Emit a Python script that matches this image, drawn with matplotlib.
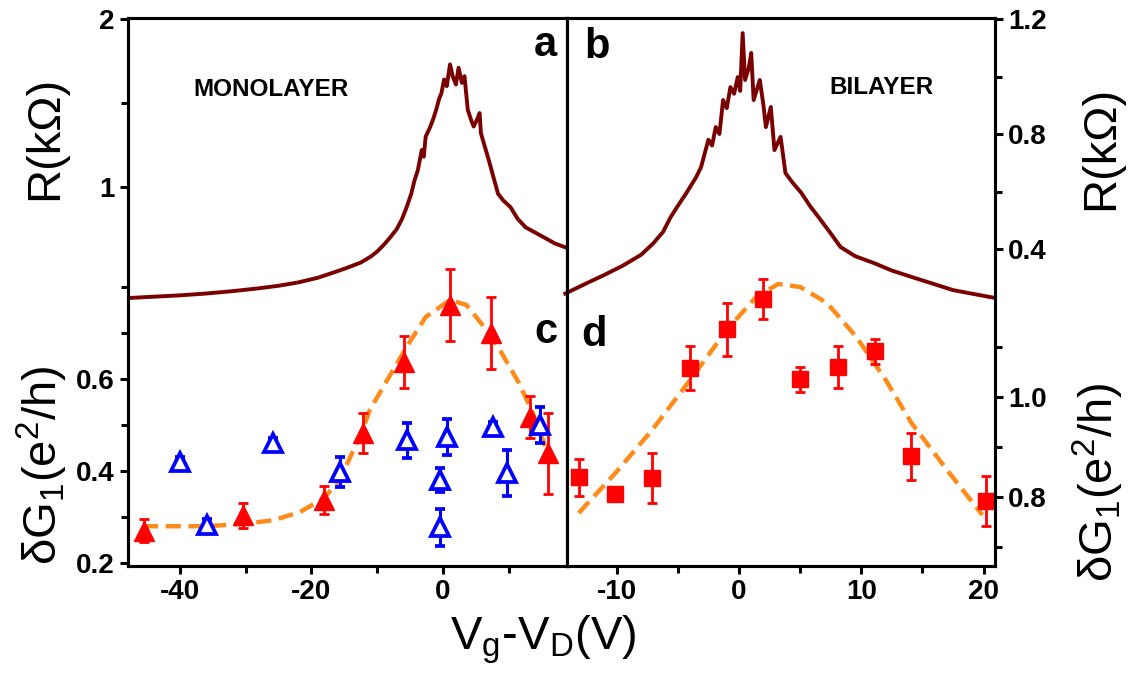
import numpy as np
import matplotlib
matplotlib.use('Agg')
import matplotlib.pyplot as plt
from matplotlib.ticker import FixedLocator

plt.rcParams['font.family'] = ['Liberation Sans', 'DejaVu Sans']
plt.rcParams['mathtext.default'] = 'regular'

# ---- datos ----
# resistencia monocapa (kOhm) vs Vg-VD
mono_R_v = [-47.9, -44, -40, -36, -32, -28, -25, -22, -19, -16.7, -14.5, -12.5, -11, -10, -9, -8, -7,
            -6.2, -5.5, -4.8, -4.3, -3.8, -3.5, -3.2, -2.9, -2.6, -2.0, -1.5, -1.0, -0.6, -0.2, 0.2, 0.6,
            1.1, 1.5, 2.0, 2.4, 2.9, 3.3, 3.8, 4.3, 4.7, 5.2, 5.6, 5.8, 6.4, 7.0, 7.7, 8.4, 9.2, 10.3,
            11.4, 12.6, 14.0, 15.4, 17.0, 18.9]
mono_R = [0.339, 0.347, 0.355, 0.366, 0.38, 0.397, 0.412, 0.432, 0.46, 0.49, 0.52, 0.55, 0.585, 0.615,
          0.655, 0.70, 0.75, 0.81, 0.88, 0.96, 1.04, 1.10, 1.16, 1.22, 1.18, 1.30, 1.35, 1.40, 1.46, 1.52,
          1.56, 1.64, 1.60, 1.73, 1.66, 1.61, 1.71, 1.62, 1.66, 1.46, 1.40, 1.36, 1.40, 1.44, 1.32, 1.24,
          1.16, 1.06, 0.96, 0.92, 0.88, 0.81, 0.76, 0.73, 0.70, 0.665, 0.637]

# resistencia bicapa
bi_R_v = [-14.2, -12.5, -11, -9.5, -8, -7, -6.2, -5.6, -5.0, -4.3, -3.5, -3.1, -2.5, -2.2, -1.9, -1.6,
          -1.3, -1.0, -0.7, -0.4, -0.1, 0.1, 0.3, 0.5, 0.8, 1.0, 1.2, 1.5, 1.7, 2.0, 2.2, 2.6, 2.9, 3.4,
          3.8, 4.4, 5.1, 5.8, 6.5, 7.4, 8.3, 9.5, 11.1, 12.5, 14.1, 15.8, 17.5, 19.0, 20.9]
bi_R = [0.245, 0.28, 0.31, 0.342, 0.38, 0.42, 0.46, 0.51, 0.55, 0.595, 0.65, 0.685, 0.78, 0.76, 0.824,
        0.80, 0.918, 0.89, 0.963, 0.94, 0.998, 0.95, 1.151, 0.988, 1.03, 1.082, 0.918, 0.96, 0.988, 0.90,
        0.824, 0.894, 0.744, 0.79, 0.664, 0.63, 0.595, 0.55, 0.511, 0.46, 0.407, 0.375, 0.35, 0.325,
        0.303, 0.28, 0.257, 0.245, 0.23]

# dG1 monocapa (triangulos llenos)
mono_v = [-45.5, -30.4, -18.1, -12.2, -5.9, 1.1, 7.3, 13.2, 16.0]
mono_G = [0.27, 0.304, 0.337, 0.483, 0.637, 0.761, 0.70, 0.517, 0.439]
mono_err = [0.025, 0.027, 0.03, 0.043, 0.057, 0.078, 0.078, 0.046, 0.088]

# dG1 monocapa (triangulos abiertos)
mono2_v = [-40.0, -35.9, -25.8, -15.7, -5.5, 0.6, -0.5, -0.5, 7.6, 9.7, 14.8]
mono2_G = [0.42, 0.283, 0.461, 0.398, 0.467, 0.474, 0.38, 0.278, 0.496, 0.396, 0.50]
mono2_err = [0.01, 0.012, 0.01, 0.033, 0.038, 0.04, 0.026, 0.04, 0.01, 0.05, 0.04]

# ajuste monocapa
fit_mono_v = [-45.6, -35.9, -30.4, -25.8, -21.7, -18.1, -15.7, -12.2, -11.1, -8.2, -5.5, -2.6, 1.1,
              3.6, 5.8, 8.7, 11.6, 13.7, 15.4, 16.2]
fit_mono_G = [0.28, 0.28, 0.285, 0.293, 0.311, 0.341, 0.38, 0.489, 0.533, 0.604, 0.67, 0.735, 0.772,
              0.761, 0.722, 0.663, 0.591, 0.526, 0.461, 0.43]

# dG1 bicapa
bi_v = [-13.1, -10.1, -7.1, -4.0, -1.0, 2.0, 5.0, 8.1, 11.1, 14.1, 20.2]
bi_G = [0.84, 0.806, 0.838, 1.058, 1.136, 1.196, 1.036, 1.06, 1.092, 0.882, 0.792]
bi_err = [0.037, 0.0, 0.05, 0.044, 0.053, 0.04, 0.025, 0.042, 0.025, 0.047, 0.05]

fit_bi_v = [-13.1, -10.1, -7.1, -4.0, -1.0, 1.4, 3.2, 5.0, 7.2, 9.6, 12.0, 14.1, 17.2, 19.9]
fit_bi_G = [0.768, 0.848, 0.934, 1.034, 1.134, 1.2, 1.226, 1.22, 1.188, 1.12, 1.034, 0.948, 0.848, 0.764]

W, H = 1140, 677
fig = plt.figure(figsize=(W / 100, H / 100), dpi=100)

def caja(x0, y0, x1, y1):
    return [x0 / W, 1 - y1 / H, (x1 - x0) / W, (y1 - y0) / H]

rojo = '#ff0000'
azul = '#0000ff'
naranja = '#ff8c1a'
vino = '#7a0000'
lw_sp = 2.2

def estilo(ax):
    for s in ax.spines.values():
        s.set_linewidth(lw_sp)
    ax.tick_params(which='major', direction='out', length=6, width=2.2, labelsize=20)
    ax.tick_params(which='minor', direction='out', length=5, width=2.2)
    for t in ax.get_xticklabels() + ax.get_yticklabels():
        t.set_fontweight('bold')

# ---- panel izquierdo ----
axGl = fig.add_axes(caja(128, 18, 567, 566))
axRl = fig.add_axes(caja(128, 18, 567, 566), sharex=axGl)
axRl.patch.set_visible(False)

axRl.plot(mono_R_v, mono_R, color=vino, lw=2.8)
axRl.set_ylim(-1.256, 2.006)
axRl.yaxis.set_major_locator(FixedLocator([1, 2]))
axRl.yaxis.set_minor_locator(FixedLocator([1.5]))
axRl.tick_params(axis='x', which='both', bottom=False, labelbottom=False)

axGl.plot(fit_mono_v, fit_mono_G, color=naranja, lw=3.2, ls=(0, (3.4, 1.7)), zorder=1)
axGl.errorbar(mono_v, mono_G, yerr=mono_err, fmt='^', ms=14, color=rojo, ecolor=rojo,
              elinewidth=2.0, capsize=3.5, capthick=2.0, zorder=3)
axGl.errorbar(mono2_v, mono2_G, yerr=mono2_err, fmt='^', ms=13.5, mfc='white', mec=azul, mew=2.7,
              ecolor=azul, elinewidth=2.2, capsize=3.5, capthick=2.2, zorder=4)
axGl.set_ylim(0.1935, 1.385)
axGl.set_xlim(-47.9, 18.9)
axGl.yaxis.set_major_locator(FixedLocator([0.2, 0.4, 0.6]))
axGl.yaxis.set_minor_locator(FixedLocator([0.3, 0.5, 0.7, 0.8]))
axGl.xaxis.set_major_locator(FixedLocator([-40, -20, 0]))
axGl.xaxis.set_minor_locator(FixedLocator([-30, -10, 10]))
axGl.set_yticklabels(['0.2', '0.4', '0.6'])
axGl.set_xticklabels(['-40', '-20', '0'])
estilo(axGl)
estilo(axRl)

# ---- panel derecho ----
axGr = fig.add_axes(caja(567, 18, 995, 566))
axRr = fig.add_axes(caja(567, 18, 995, 566), sharex=axGr)
axRr.patch.set_visible(False)

axRr.plot(bi_R_v, bi_R, color=vino, lw=2.8, clip_on=False)
axRr.set_ylim(-0.7026, 1.2035)
axRr.yaxis.tick_right()
axRr.yaxis.set_major_locator(FixedLocator([0.4, 0.8, 1.2]))
axRr.yaxis.set_minor_locator(FixedLocator([0.6, 1.0]))
axRr.set_yticklabels(['0.4', '0.8', '1.2'])
axRr.tick_params(axis='x', which='both', bottom=False, labelbottom=False)

axGr.plot(fit_bi_v, fit_bi_G, color=naranja, lw=3.2, ls=(0, (3.4, 1.7)), zorder=1)
axGr.errorbar(bi_v, bi_G, yerr=bi_err, fmt='s', ms=11.5, color=rojo, ecolor=rojo,
              elinewidth=2.0, capsize=3.5, capthick=2.0, zorder=3)
axGr.set_ylim(0.662, 1.758)
axGr.set_xlim(-14.06, 20.93)
axGr.yaxis.tick_right()
axGr.yaxis.set_major_locator(FixedLocator([0.8, 1.0]))
axGr.yaxis.set_minor_locator(FixedLocator([0.7, 0.9, 1.1]))
axGr.set_yticklabels(['0.8', '1.0'])
axGr.xaxis.set_major_locator(FixedLocator([-10, 0, 10, 20]))
axGr.xaxis.set_minor_locator(FixedLocator([-5, 5, 15]))
axGr.set_xticklabels(['-10', '0', '10', '20'])
estilo(axGr)
estilo(axRr)

# ---- textos ----
def txt(x, y, s, **kw):
    fig.text(x / W, 1 - y / H, s, ha='center', va='center', **kw)

txt(271, 90, 'MONOLAYER', fontsize=17.5, fontweight='bold')
txt(881, 87, 'BILAYER', fontsize=17.5, fontweight='bold')
txt(545, 45, 'a', fontsize=30, fontweight='bold')
txt(597, 47, 'b', fontsize=30, fontweight='bold')
txt(546, 332, 'c', fontsize=30, fontweight='bold')
txt(594, 335, 'd', fontsize=30, fontweight='bold')

txt(45, 138, 'R(k\u03a9)', fontsize=34, rotation=90)
txt(1101, 148, 'R(k\u03a9)', fontsize=34, rotation=90)
txt(42, 465, r'$\delta G_1(e^2/h)$', fontsize=34, rotation=90)
txt(1098, 482, r'$\delta G_1(e^2/h)$', fontsize=34, rotation=90)
txt(543, 640, r'$V_g$-$V_D$(V)', fontsize=34)

fig.savefig('out.png', dpi=100)
